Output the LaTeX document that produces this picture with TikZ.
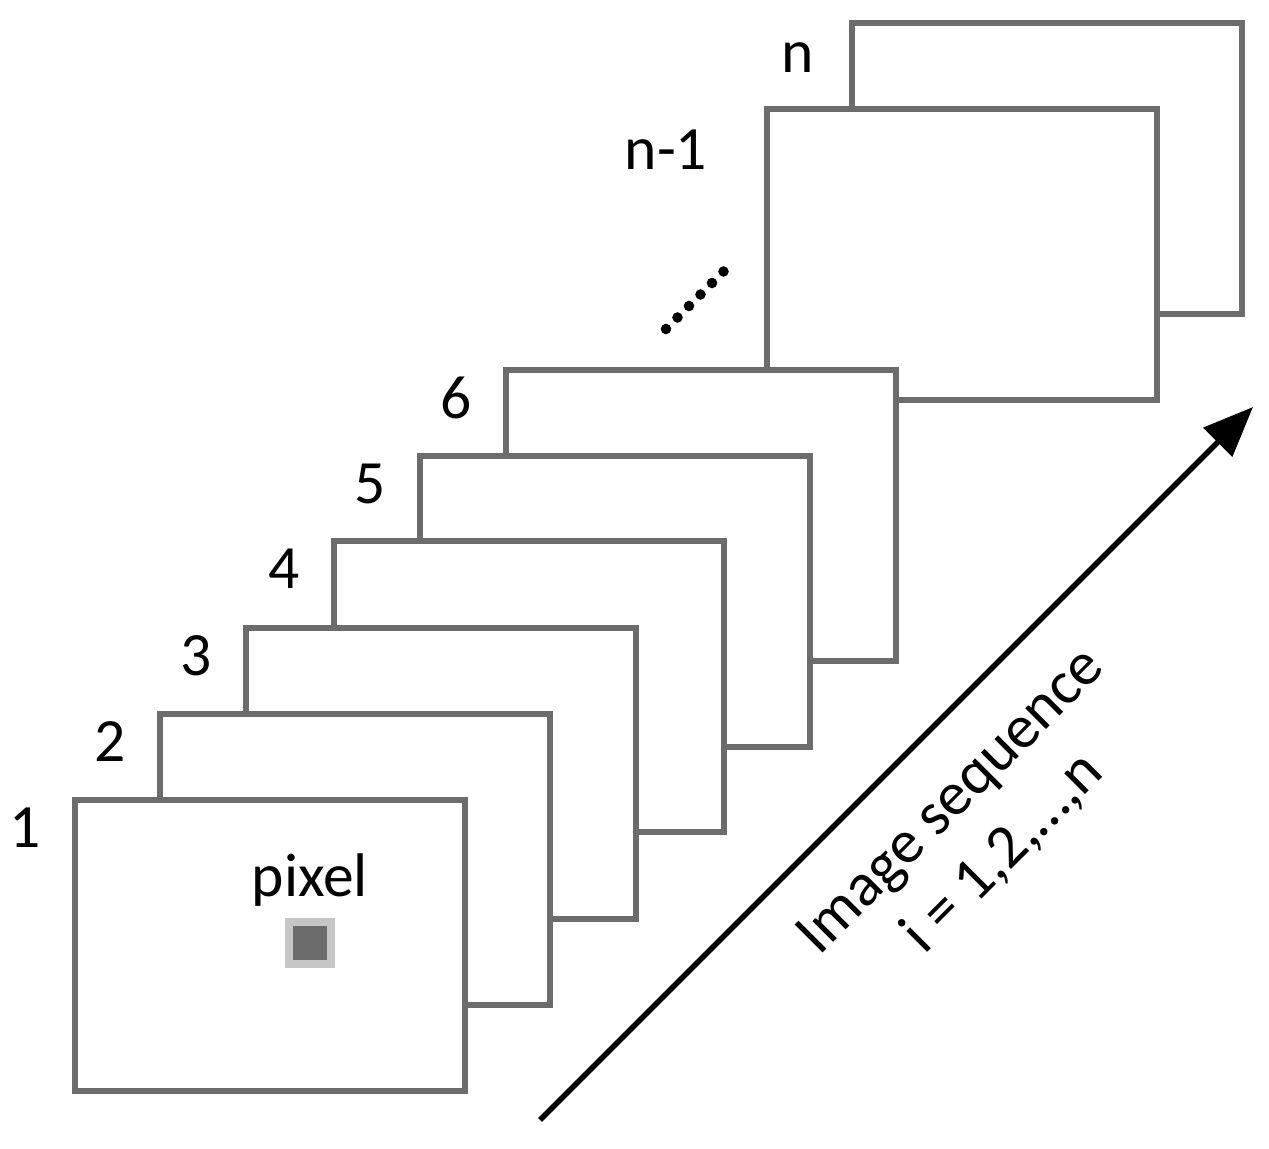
\documentclass[tikz,border=0pt]{standalone}
\usepackage{fontspec}
\setmainfont{Carlito}
\usetikzlibrary{positioning}
\usetikzlibrary{arrows.meta}

\tikzset{
  frame/.style={draw=gray!85!black, line width=1.6pt, fill=white, minimum width=3.9cm, minimum height=2.91cm, anchor=north west, inner sep=0pt},
  lbl/.style={font=\fontsize{17.5}{21}\selectfont},
}

\begin{document}
\begin{tikzpicture}[x=0.01cm, y=-0.01cm]
\useasboundingbox (0,0) rectangle (1269,1149);
%back frames
\node[frame] (fn) at (849,20) {};
\node[frame] (fm) at (764,106) {};
%front frames, back to front
\foreach \i/\xx/\yy in {6/503/367, 5/417/453, 4/331/538, 3/243/625, 2/157/711, 1/72/797}{
  \node[frame] (f\i) at (\xx,\yy) {};
  \node[lbl] (l\i) at ([xshift=-0.47cm,yshift=-0.31cm]f\i.north west) {\i};
}
%labels of back frames
\node[lbl] (ln) at (798,58) {n};
\node[lbl] (lm) at (666,150) {n-1};
%dots
\foreach \k in {0,...,5}
  \fill (666+11.5*\k,329-11.5*\k) circle (1.5pt);
%pixel
\node[draw=gray!45, line width=2pt, fill=gray!85!black, minimum size=0.42cm, inner sep=0pt] (px) at (310,943) {};
\node[lbl, above=0.0cm of px] (pxl) {pixel};
%sequence arrow
\coordinate (a0) at (540,1120);
\coordinate (a1) at (1253,407);
\draw[line width=1.6pt, -{Triangle[length=0.5cm,width=0.4cm]}] (a0) -- (a1);
\node[lbl, rotate=45, align=center] (seq) at (978,828) {Image sequence\\i = 1,2,\dots,n};
\end{tikzpicture}
\end{document}
